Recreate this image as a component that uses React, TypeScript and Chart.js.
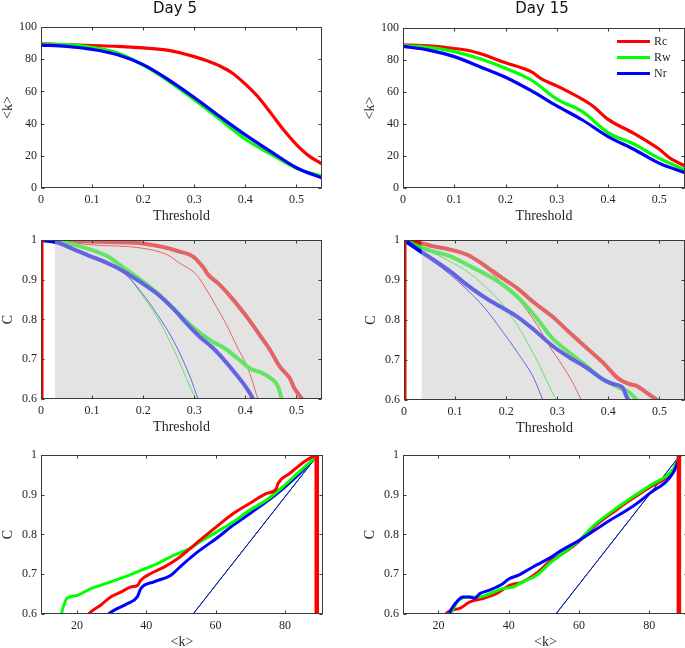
import React, { useEffect, useRef } from 'react';
import { Chart, registerables } from 'chart.js';
Chart.register(...registerables);

// ---------- labels / colours ----------
const SERIES_LABELS = ['Rc', 'Rw', 'Nr'];
const RED = '#ff0000';
const GREEN = '#00ff00';
const BLUE = '#0000ff';
const SERIES_COLORS = [RED, GREEN, BLUE];
const PANEL_TITLES = ['Day 5', 'Day 15'];
const THR_TITLE = 'Threshold';
const K_TITLE = '<k>';
const C_TITLE = 'C';

// ---------- Day 5 : <k> vs threshold ----------
const d5k_thr = [0, 0.05, 0.1, 0.15, 0.2, 0.25, 0.3, 0.35, 0.4, 0.45, 0.5, 0.55];
const d5k_rw = [89.3, 89.0, 87.3, 83.8, 76.3, 66.4, 54.8, 42.7, 30.3, 21.0, 12.2, 7.4];
const d5k_nr = [88.8, 88.0, 86.1, 82.8, 76.6, 67.2, 56.2, 44.4, 33.0, 22.6, 12.6, 6.2];
const d5k_rc_thr = [0, 0.05, 0.1, 0.15, 0.2, 0.25, 0.3, 0.325, 0.35, 0.375, 0.4, 0.425, 0.45, 0.475, 0.5, 0.525, 0.55];
const d5k_rc = [89.5, 89.0, 88.5, 88.0, 87.0, 85.5, 81.6, 79.0, 75.8, 71.3, 64.5, 56.5, 46.5, 36.0, 27.0, 19.8, 15.0];

// ---------- Day 15 : <k> vs threshold ----------
const d15k_thr = [0, 0.05, 0.1, 0.15, 0.2, 0.25, 0.3, 0.35, 0.4, 0.45, 0.5, 0.55];
const d15k_rw = [89.0, 87.9, 85.2, 80.8, 74.8, 67.5, 55.6, 47.7, 34.6, 27.5, 18.5, 11.3];
const d15k_nr = [88.5, 86.2, 82.1, 75.8, 69.2, 60.8, 51.3, 42.5, 32.1, 24.2, 15.4, 9.6];
const d15k_rc_thr = [0, 0.05, 0.1, 0.13, 0.15, 0.2, 0.25, 0.27, 0.3, 0.35, 0.37, 0.4, 0.45, 0.5, 0.52, 0.55];
const d15k_rc = [89.5, 88.8, 87.2, 85.8, 84.0, 78.3, 72.7, 68.2, 63.8, 55.4, 51.3, 42.9, 34.2, 24.2, 18.8, 13.8];

// ---------- Day 5 : C vs threshold ----------
const d5c_shadeStart = 0.027;
const d5c_rcThick_x = [0, 0.03, 0.097, 0.195, 0.247, 0.271, 0.297, 0.317, 0.327, 0.35, 0.376, 0.402, 0.428, 0.448, 0.467, 0.487, 0.496, 0.51, 0.514];
const d5c_rcThick_y = [1, 1, 0.996, 0.992, 0.98, 0.971, 0.959, 0.932, 0.913, 0.887, 0.85, 0.808, 0.761, 0.724, 0.682, 0.652, 0.627, 0.602, 0.595];
const d5c_rcThin_x = [0, 0.03, 0.097, 0.195, 0.247, 0.271, 0.304, 0.324, 0.343, 0.363, 0.382, 0.402, 0.412, 0.422, 0.426];
const d5c_rcThin_y = [1, 0.998, 0.988, 0.98, 0.963, 0.942, 0.913, 0.875, 0.833, 0.787, 0.736, 0.686, 0.652, 0.61, 0.595];
const d5c_rwThick_x = [0, 0.029, 0.065, 0.097, 0.13, 0.162, 0.195, 0.228, 0.26, 0.285, 0.31, 0.335, 0.36, 0.385, 0.41, 0.43, 0.45, 0.462, 0.468, 0.472];
const d5c_rwThick_y = [1, 0.997, 0.988, 0.976, 0.959, 0.93, 0.9, 0.866, 0.826, 0.795, 0.767, 0.745, 0.727, 0.702, 0.676, 0.667, 0.652, 0.636, 0.615, 0.595];
const d5c_rwThin_x = [0, 0.029, 0.097, 0.162, 0.195, 0.228, 0.26, 0.293, 0.302, 0.305];
const d5c_rwThin_y = [1, 0.997, 0.976, 0.925, 0.866, 0.804, 0.724, 0.627, 0.602, 0.59];
const d5c_nrThick_x = [0, 0.029, 0.065, 0.097, 0.13, 0.162, 0.195, 0.228, 0.26, 0.285, 0.31, 0.335, 0.36, 0.385, 0.4, 0.41, 0.417];
const d5c_nrThick_y = [1, 0.995, 0.976, 0.959, 0.942, 0.921, 0.894, 0.864, 0.826, 0.79, 0.757, 0.73, 0.696, 0.657, 0.632, 0.612, 0.595];
const d5c_nrThin_x = [0, 0.029, 0.097, 0.13, 0.162, 0.195, 0.228, 0.26, 0.293, 0.307, 0.312];
const d5c_nrThin_y = [1, 0.994, 0.957, 0.938, 0.917, 0.871, 0.812, 0.745, 0.652, 0.602, 0.59];
const d5c_zero_x = [0, 0];
const d5c_zero_y = [0.6, 1];

// ---------- Day 15 : C vs threshold ----------
const d15c_shadeStart = 0.034;
const d15c_rcThick_x = [0, 0.033, 0.058, 0.091, 0.124, 0.156, 0.189, 0.222, 0.255, 0.291, 0.323, 0.356, 0.389, 0.421, 0.441, 0.454, 0.474, 0.493, 0.5];
const d15c_rcThick_y = [1, 0.992, 0.984, 0.976, 0.963, 0.938, 0.908, 0.879, 0.843, 0.808, 0.77, 0.732, 0.694, 0.652, 0.64, 0.636, 0.619, 0.602, 0.595];
const d15c_rcThin_x = [0, 0.033, 0.058, 0.091, 0.124, 0.156, 0.189, 0.222, 0.242, 0.261, 0.284, 0.31, 0.33, 0.346, 0.35];
const d15c_rcThin_y = [1, 0.992, 0.984, 0.976, 0.962, 0.934, 0.896, 0.854, 0.822, 0.787, 0.736, 0.686, 0.644, 0.602, 0.59];
const d15c_rwThick_x = [0, 0.033, 0.058, 0.091, 0.124, 0.156, 0.189, 0.222, 0.255, 0.29, 0.323, 0.356, 0.389, 0.421, 0.441, 0.454, 0.46];
const d15c_rwThick_y = [1, 0.981, 0.971, 0.959, 0.938, 0.917, 0.892, 0.858, 0.812, 0.755, 0.719, 0.686, 0.652, 0.631, 0.619, 0.602, 0.595];
const d15c_rwThin_x = [0, 0.033, 0.058, 0.091, 0.124, 0.156, 0.189, 0.222, 0.255, 0.278, 0.297, 0.302];
const d15c_rwThin_y = [1, 0.981, 0.967, 0.946, 0.921, 0.887, 0.845, 0.787, 0.712, 0.652, 0.602, 0.59];
const d15c_nrThick_x = [0, 0.033, 0.058, 0.091, 0.124, 0.156, 0.189, 0.222, 0.255, 0.291, 0.323, 0.356, 0.389, 0.409, 0.428, 0.435, 0.441, 0.445];
const d15c_nrThick_y = [1, 0.971, 0.95, 0.921, 0.887, 0.858, 0.833, 0.808, 0.775, 0.735, 0.707, 0.682, 0.652, 0.64, 0.631, 0.61, 0.598, 0.59];
const d15c_nrThin_x = [0, 0.033, 0.058, 0.091, 0.124, 0.156, 0.189, 0.222, 0.255, 0.271, 0.275];
const d15c_nrThin_y = [1, 0.971, 0.946, 0.913, 0.875, 0.833, 0.778, 0.719, 0.652, 0.602, 0.59];
const d15c_zero_x = [0, 0];
const d15c_zero_y = [0.6, 1];

// ---------- Day 5 : C vs <k> ----------
const d5ck_rc_k = [22.8, 23.5, 26.8, 29.7, 32.6, 35.5, 37.5, 38.4, 41.3, 45.1, 49.0, 52.3, 55.4, 60.2, 65.0, 69.8, 74.6, 77.5, 78.0, 81.3, 86.2, 89.0];
const d5ck_rc_c = [0.592, 0.601, 0.622, 0.643, 0.655, 0.668, 0.672, 0.685, 0.702, 0.718, 0.739, 0.762, 0.785, 0.819, 0.852, 0.878, 0.903, 0.915, 0.928, 0.953, 0.987, 1.0];
const d5ck_rw_k = [15.3, 15.5, 16.7, 17.2, 20.1, 24.0, 26.8, 29.7, 33.6, 38.4, 43.2, 48.0, 52.3, 55.4, 60.2, 65.0, 69.8, 74.6, 79.4, 84.2, 89.5];
const d5ck_rw_c = [0.59, 0.601, 0.634, 0.64, 0.647, 0.664, 0.672, 0.681, 0.693, 0.71, 0.727, 0.748, 0.764, 0.781, 0.806, 0.831, 0.861, 0.886, 0.92, 0.958, 1.0];
const d5ck_nr_k = [28.5, 29.2, 31.7, 34.5, 37.4, 38.4, 42.2, 47.0, 49.9, 52.8, 55.4, 60.2, 65.0, 69.8, 74.6, 79.4, 84.2, 89.5];
const d5ck_nr_c = [0.595, 0.601, 0.614, 0.626, 0.643, 0.664, 0.681, 0.697, 0.72, 0.742, 0.76, 0.79, 0.823, 0.852, 0.882, 0.915, 0.953, 1.0];
const d5ck_diag_k = [53.5, 89.5];
const d5ck_diag_c = [0.6, 1.0];
const d5ck_vert_k = [89.2, 89.2];
const d5ck_vert_c = [0.6, 1.0];

// ---------- Day 15 : C vs <k> ----------
const d15ck_rc_k = [21.8, 22.2, 26.0, 28.8, 32.6, 36.4, 40.2, 44.0, 47.8, 52.1, 55.0, 60.0, 64.0, 70.0, 75.0, 80.0, 86.9, 88.8];
const d15ck_rc_c = [0.59, 0.601, 0.614, 0.63, 0.639, 0.651, 0.672, 0.681, 0.702, 0.735, 0.75, 0.783, 0.818, 0.858, 0.889, 0.918, 0.962, 1.0];
const d15ck_rw_k = [23.3, 23.6, 25.0, 26.4, 28.8, 31.7, 34.5, 38.3, 41.2, 44.0, 47.8, 52.1, 55.0, 60.0, 64.1, 70.0, 75.0, 80.0, 86.9, 88.8];
const d15ck_rw_c = [0.59, 0.601, 0.626, 0.639, 0.643, 0.643, 0.651, 0.664, 0.668, 0.681, 0.697, 0.731, 0.75, 0.785, 0.822, 0.862, 0.893, 0.922, 0.966, 1.0];
const d15ck_nr_k = [22.8, 23.1, 24.1, 25.5, 26.9, 28.8, 30.3, 31.7, 34.5, 38.3, 40.0, 43.1, 47.8, 52.1, 55.0, 60.0, 67.9, 75.0, 80.0, 86.9, 88.8];
const d15ck_nr_c = [0.59, 0.601, 0.618, 0.634, 0.643, 0.643, 0.639, 0.651, 0.66, 0.676, 0.688, 0.699, 0.723, 0.743, 0.76, 0.785, 0.831, 0.869, 0.903, 0.957, 1.0];
const d15ck_diag_k = [53.4, 88.8];
const d15ck_diag_c = [0.6, 1.0];
const d15ck_vert_k = [88.4, 88.4];
const d15ck_vert_c = [0.6, 1.0];

// ---------- style constants ----------
const AXIS_COLOR = '#262626';
const FRAME_COLOR = '#3a3a3a';
const SERIF = '"Liberation Serif", "Times New Roman", serif';
const SANS = '"DejaVu Sans", sans-serif';
const SHADE = 'rgba(200,200,200,0.5)';
const YW = 41;
const XH = 36;
const PR = 8;
const TICK_LEN = 3;

type Series = {
  x: number[];
  y: number[];
  color: string;
  width: number;
  smooth?: boolean;
  fillStart?: boolean;
  fillColor?: string;
  order?: number;
  clip?: number;
};

type PanelSpec = {
  left: number; top: number; right: number; bottom: number; canvasTop: number;
  xMin: number; xMax: number; xStep: number;
  yMin: number; yMax: number; yStep: number;
  xTitle: string; yTitle: string;
  series: Series[];
  title?: { text: string; x: number; y: number };
  legend?: boolean;
};

const S = (x: number[], y: number[], color: string, width: number, smooth = true, clip = 0): Series => ({ x, y, color, width, smooth, order: 1, clip });
const shade = (start: number, xMax: number, yMax: number): Series => ({
  x: [start, xMax], y: [yMax, yMax], color: 'rgba(0,0,0,0)', width: 0, smooth: false, fillStart: true, fillColor: SHADE, order: 0, clip: 0,
});

const panels: PanelSpec[] = [
  {
    left: 41, top: 27, right: 322, bottom: 188, canvasTop: 0,
    xMin: 0, xMax: 0.55, xStep: 0.1, yMin: 0, yMax: 100, yStep: 20,
    xTitle: THR_TITLE, yTitle: K_TITLE,
    title: { text: PANEL_TITLES[0], x: 175, y: 12.5 },
    series: [
      S(d5k_thr, d5k_nr, BLUE, 3.2),
      S(d5k_thr, d5k_rw, GREEN, 3.2),
      S(d5k_rc_thr, d5k_rc, RED, 3.2),
    ],
  },
  {
    left: 403, top: 28, right: 685, bottom: 188, canvasTop: 0,
    xMin: 0, xMax: 0.55, xStep: 0.1, yMin: 0, yMax: 100, yStep: 20,
    xTitle: THR_TITLE, yTitle: K_TITLE,
    title: { text: PANEL_TITLES[1], x: 542, y: 12.5 },
    legend: true,
    series: [
      S(d15k_thr, d15k_nr, BLUE, 3.2),
      S(d15k_thr, d15k_rw, GREEN, 3.2),
      S(d15k_rc_thr, d15k_rc, RED, 3.2),
    ],
  },
  {
    left: 41, top: 240, right: 322, bottom: 399, canvasTop: 228,
    xMin: 0, xMax: 0.55, xStep: 0.1, yMin: 0.6, yMax: 1, yStep: 0.1,
    xTitle: THR_TITLE, yTitle: C_TITLE,
    series: [
      shade(d5c_shadeStart, 0.55, 1),
      S(d5c_zero_x, d5c_zero_y, RED, 5, false, 0),
      S(d5c_nrThick_x, d5c_nrThick_y, BLUE, 4),
      S(d5c_rwThick_x, d5c_rwThick_y, GREEN, 4),
      S(d5c_rcThick_x, d5c_rcThick_y, RED, 4),
      S(d5c_nrThin_x, d5c_nrThin_y, BLUE, 1),
      S(d5c_rwThin_x, d5c_rwThin_y, GREEN, 1),
      S(d5c_rcThin_x, d5c_rcThin_y, RED, 1),
    ],
  },
  {
    left: 404, top: 240, right: 685, bottom: 400, canvasTop: 228,
    xMin: 0, xMax: 0.55, xStep: 0.1, yMin: 0.6, yMax: 1, yStep: 0.1,
    xTitle: THR_TITLE, yTitle: C_TITLE,
    series: [
      shade(d15c_shadeStart, 0.55, 1),
      S(d15c_zero_x, d15c_zero_y, RED, 5, false, 0),
      S(d15c_nrThick_x, d15c_nrThick_y, BLUE, 4),
      S(d15c_rwThick_x, d15c_rwThick_y, GREEN, 4),
      S(d15c_rcThick_x, d15c_rcThick_y, RED, 4),
      S(d15c_nrThin_x, d15c_nrThin_y, BLUE, 1),
      S(d15c_rwThin_x, d15c_rwThin_y, GREEN, 1),
      S(d15c_rcThin_x, d15c_rcThin_y, RED, 1),
    ],
  },
  {
    left: 41, top: 455, right: 323, bottom: 614, canvasTop: 443,
    xMin: 9.6, xMax: 91, xStep: 20, yMin: 0.6, yMax: 1, yStep: 0.1,
    xTitle: K_TITLE, yTitle: C_TITLE,
    series: [
      S(d5ck_vert_k, d5ck_vert_c, RED, 4.5, false),
      S(d5ck_rc_k, d5ck_rc_c, RED, 3),
      S(d5ck_rw_k, d5ck_rw_c, GREEN, 3),
      S(d5ck_nr_k, d5ck_nr_c, BLUE, 3),
      S(d5ck_diag_k, d5ck_diag_c, BLUE, 1, false),
      S(d5ck_diag_k, d5ck_diag_c, GREEN, 1, false),
      S(d5ck_diag_k, d5ck_diag_c, RED, 1, false),
    ],
  },
  {
    left: 403, top: 455, right: 688, bottom: 614, canvasTop: 443,
    xMin: 9.9, xMax: 91, xStep: 20, yMin: 0.6, yMax: 1, yStep: 0.1,
    xTitle: K_TITLE, yTitle: C_TITLE,
    series: [
      S(d15ck_vert_k, d15ck_vert_c, RED, 4.5, false),
      S(d15ck_nr_k, d15ck_nr_c, BLUE, 3),
      S(d15ck_rw_k, d15ck_rw_c, GREEN, 3),
      S(d15ck_rc_k, d15ck_rc_c, RED, 3),
      S(d15ck_diag_k, d15ck_diag_c, BLUE, 1, false),
      S(d15ck_diag_k, d15ck_diag_c, GREEN, 1, false),
      S(d15ck_diag_k, d15ck_diag_c, RED, 1, false),
    ],
  },
];

const fmt = (v: number | string) => String(Math.round(Number(v) * 1000) / 1000);

function geom(p: PanelSpec) {
  const canvasLeft = p.left - YW;
  const width = p.right - p.left + YW + PR;
  const height = p.bottom - p.canvasTop + XH;
  return { canvasLeft, width, height, padTop: p.top - p.canvasTop };
}

const framePlugin = {
  id: 'matlabFrame',
  afterDatasetsDraw(chart: any) {
    const { ctx, chartArea: a, scales } = chart;
    const l = Math.floor(a.left) + 0.5;
    const r = Math.round(a.right) - 0.5;
    const t = Math.floor(a.top) + 0.5;
    const b = Math.round(a.bottom) - 0.5;
    ctx.save();
    ctx.strokeStyle = FRAME_COLOR;
    ctx.lineWidth = 1;
    ctx.strokeRect(l, t, r - l, b - t);
    ctx.beginPath();
    for (const tk of scales.x.ticks) {
      const px = Math.round(scales.x.getPixelForValue(tk.value)) + 0.5;
      ctx.moveTo(px, b); ctx.lineTo(px, b - TICK_LEN);
      ctx.moveTo(px, t); ctx.lineTo(px, t + TICK_LEN);
    }
    for (const tk of scales.y.ticks) {
      const py = Math.round(scales.y.getPixelForValue(tk.value)) + 0.5;
      ctx.moveTo(l, py); ctx.lineTo(l + TICK_LEN, py);
      ctx.moveTo(r, py); ctx.lineTo(r - TICK_LEN, py);
    }
    ctx.stroke();
    ctx.restore();
  },
};

const legendPlugin = {
  id: 'insideLegend',
  afterDatasetsDraw(chart: any) {
    const { ctx, chartArea: a } = chart;
    ctx.save();
    SERIES_LABELS.forEach((lab, i) => {
      const y = a.top + 13.5 + i * 16;
      ctx.strokeStyle = SERIES_COLORS[i];
      ctx.lineWidth = 3;
      ctx.beginPath();
      ctx.moveTo(a.right - 68, y);
      ctx.lineTo(a.right - 35, y);
      ctx.stroke();
      ctx.fillStyle = AXIS_COLOR;
      ctx.font = `12px ${SERIF}`;
      ctx.textAlign = 'left';
      ctx.textBaseline = 'middle';
      ctx.fillText(lab, a.right - 31, y + 0.5);
    });
    ctx.restore();
  },
};

function makeTitlePlugin(p: PanelSpec, canvasLeft: number) {
  return {
    id: 'panelTitle',
    afterDraw(chart: any) {
      if (!p.title) return;
      const ctx = chart.ctx;
      ctx.save();
      ctx.fillStyle = '#111';
      ctx.font = `15px ${SANS}`;
      ctx.textAlign = 'center';
      ctx.textBaseline = 'alphabetic';
      ctx.fillText(p.title.text, p.title.x - canvasLeft, p.title.y - p.canvasTop);
      ctx.restore();
    },
  };
}

function buildConfig(p: PanelSpec, canvasLeft: number, padTop: number): any {
  const datasets = p.series.map((s) => ({
    data: s.x.map((xv, i) => ({ x: xv, y: s.y[i] })),
    borderColor: s.color,
    borderWidth: s.width,
    backgroundColor: s.fillColor || s.color,
    fill: s.fillStart ? 'start' : false,
    pointRadius: 0,
    pointHoverRadius: 0,
    cubicInterpolationMode: s.smooth ? 'monotone' : 'default',
    tension: 0,
    borderJoinStyle: 'round',
    borderCapStyle: 'butt',
    order: s.order ?? 1,
    clip: s.clip ?? 0,
  }));
  const tickFont = { family: SERIF, size: 12 };
  const titleFont = { family: SERIF, size: 14, lineHeight: 1 };
  const plugins: any[] = [framePlugin];
  if (p.legend) plugins.push(legendPlugin);
  if (p.title) plugins.push(makeTitlePlugin(p, canvasLeft));
  return {
    type: 'line',
    data: { datasets },
    plugins,
    options: {
      responsive: false,
      animation: false,
      devicePixelRatio: 1,
      events: [],
      layout: { padding: { left: 0, top: padTop, right: PR, bottom: 0 } },
      plugins: { legend: { display: false }, tooltip: { enabled: false }, title: { display: false } },
      scales: {
        x: {
          type: 'linear',
          min: p.xMin,
          max: p.xMax,
          afterFit: (s: any) => { s.height = XH; },
          grid: { display: false, drawTicks: false },
          border: { display: false },
          ticks: {
            stepSize: p.xStep, includeBounds: false, autoSkip: false, maxRotation: 0,
            padding: 5, color: AXIS_COLOR, font: tickFont, callback: fmt,
          },
          title: { display: true, text: p.xTitle, color: AXIS_COLOR, font: titleFont, padding: { top: 0, bottom: 1 } },
        },
        y: {
          type: 'linear',
          min: p.yMin,
          max: p.yMax,
          afterFit: (s: any) => { s.width = YW; },
          grid: { display: false, drawTicks: false },
          border: { display: false },
          ticks: {
            stepSize: p.yStep, includeBounds: false, autoSkip: false,
            padding: 4, color: AXIS_COLOR, font: tickFont, callback: fmt,
          },
          title: { display: true, text: p.yTitle, color: AXIS_COLOR, font: titleFont, padding: { top: 1, bottom: 0 } },
        },
      },
    },
  };
}

function Panel({ spec }: { spec: PanelSpec }) {
  const ref = useRef<HTMLCanvasElement | null>(null);
  const g = geom(spec);
  useEffect(() => {
    if (!ref.current) return;
    const chart = new Chart(ref.current, buildConfig(spec, g.canvasLeft, g.padTop));
    return () => chart.destroy();
  }, []);
  return (
    <canvas
      ref={ref}
      width={g.width}
      height={g.height}
      style={{ position: 'absolute', left: g.canvasLeft, top: spec.canvasTop, width: g.width, height: g.height }}
    />
  );
}

export default function App() {
  return (
    <div style={{ position: 'fixed', left: 0, top: 0, width: 685, height: 648, overflow: 'hidden', background: '#ffffff' }}>
      {panels.map((p, i) => (
        <Panel key={i} spec={p} />
      ))}
    </div>
  );
}
